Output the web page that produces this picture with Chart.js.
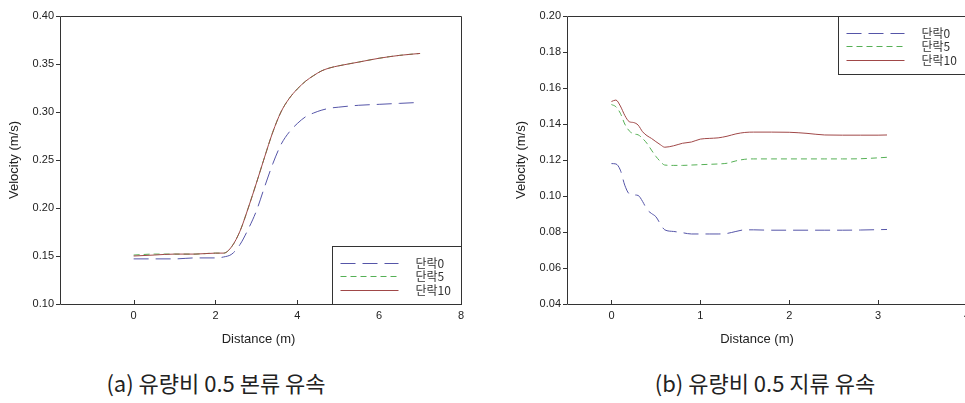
<!DOCTYPE html>
<html>
<head>
<meta charset="utf-8">
<script src="https://cdn.jsdelivr.net/npm/chart.js@4.4.1/dist/chart.umd.min.js"></script>
<style>
html, body { margin: 0; padding: 0; background: #fff; overflow: hidden; }
#wrap { position: relative; width: 965px; height: 403px; overflow: hidden; }
canvas { position: absolute; top: 0; }
#chartMain { left: 0; }
#chartBranch { left: 490px; }
.cap { position: absolute; top: 369px; font: 22px "Noto Sans CJK KR", sans-serif; line-height: 26px;
       color: #222; transform: translateX(-50%); white-space: nowrap; }
</style>
</head>
<body>
<div id="wrap">
  <canvas id="chartMain" width="480" height="352"></canvas>
  <canvas id="chartBranch" width="500" height="352"></canvas>
  <div class="cap" style="left:216px">(a) 유량비 0.5 본류 유속</div>
  <div class="cap" style="left:765px">(b) 유량비 0.5 지류 유속</div>
</div>
<script>
// 범례 이름
const seriesNames = ['단락0', '단락5', '단락10'];

// (a) 본류
const mainDist = [0, 0.5, 1, 1.5, 2, 2.2, 2.4, 2.6, 2.8, 3.0, 3.2, 3.4, 3.6, 3.8, 4.0, 4.2, 4.4, 4.6, 4.8, 5.0, 5.5, 6.0, 6.5, 7.0];
const mainCase0 = [0.147, 0.147, 0.147, 0.148, 0.148, 0.149, 0.152, 0.162, 0.178, 0.197, 0.222, 0.246, 0.266, 0.279, 0.288, 0.295, 0.299, 0.302, 0.304, 0.305, 0.307, 0.308, 0.309, 0.310];
const mainCase5 = [0.151, 0.152, 0.152, 0.152, 0.153, 0.153, 0.160, 0.176, 0.200, 0.226, 0.253, 0.279, 0.300, 0.314, 0.324, 0.332, 0.338, 0.343, 0.346, 0.348, 0.352, 0.356, 0.359, 0.361];
const mainCase10 = [0.150, 0.151, 0.152, 0.152, 0.153, 0.153, 0.160, 0.176, 0.200, 0.226, 0.253, 0.279, 0.300, 0.314, 0.324, 0.332, 0.338, 0.343, 0.346, 0.348, 0.352, 0.356, 0.359, 0.361];

// (b) 지류
const branchDist = [0, 0.05, 0.1, 0.15, 0.2, 0.25, 0.3, 0.35, 0.4, 0.45, 0.5, 0.55, 0.6, 0.7, 0.8, 0.9, 1.0, 1.1, 1.2, 1.3, 1.4, 1.5, 1.6, 1.8, 2.0, 2.2, 2.4, 2.6, 2.8, 3.0, 3.1];
const branchCase0 = [0.118, 0.1178, 0.1144, 0.106, 0.1012, 0.1006, 0.1003, 0.097, 0.0925, 0.0903, 0.0885, 0.0845, 0.0812, 0.0803, 0.0796, 0.0789, 0.0789, 0.0789, 0.0789, 0.0792, 0.0803, 0.0812, 0.0812, 0.081, 0.081, 0.081, 0.081, 0.081, 0.0811, 0.0813, 0.0814];
const branchCase5 = [0.1508, 0.1496, 0.146, 0.140, 0.1362, 0.1345, 0.134, 0.132, 0.1292, 0.1255, 0.122, 0.1192, 0.1172, 0.117, 0.117, 0.1172, 0.1174, 0.1176, 0.1178, 0.1182, 0.1195, 0.1204, 0.1206, 0.1206, 0.1206, 0.1206, 0.1206, 0.1206, 0.1207, 0.1212, 0.1215];
const branchCase10 = [0.1525, 0.1533, 0.150, 0.1448, 0.1413, 0.1408, 0.1394, 0.1357, 0.1335, 0.132, 0.1302, 0.1285, 0.1271, 0.1279, 0.1293, 0.130, 0.1316, 0.132, 0.1323, 0.1332, 0.1345, 0.1353, 0.1355, 0.1355, 0.1354, 0.1348, 0.1339, 0.1338, 0.1338, 0.1338, 0.1339];

const colors = ['#5555a8', '#55b055', '#a04848'];
const dashes = [[15, 7], [6, 4], []];
const tickFont = { family: 'Liberation Sans, Arial', size: 11 };
const titleFont = { family: 'Liberation Sans, Arial', size: 13 };

// 플롯 테두리, 눈금, x축 제목, 범례 그리기
const framePlugin = {
    id: 'frame',
    afterDraw(chart, args, opts) {
        const ctx = chart.ctx;
        const a = chart.chartArea;
        ctx.save();
        ctx.strokeStyle = '#333';
        ctx.lineWidth = 1;
        ctx.beginPath();
        ctx.rect(Math.round(a.left) + 0.5, Math.round(a.top) + 0.5, Math.round(a.right - a.left), Math.round(a.bottom - a.top));
        ctx.stroke();
        // y 눈금 (바깥)
        const ys = chart.scales.y;
        ys.ticks.forEach(t => {
            const py = Math.round(ys.getPixelForValue(t.value)) + 0.5;
            ctx.beginPath();
            ctx.moveTo(a.left - 4, py);
            ctx.lineTo(a.left, py);
            ctx.stroke();
        });
        // x 눈금 (안쪽)
        const xs = chart.scales.x;
        xs.ticks.forEach(t => {
            const px = Math.round(xs.getPixelForValue(t.value)) + 0.5;
            ctx.beginPath();
            ctx.moveTo(px, a.bottom);
            ctx.lineTo(px, a.bottom - 4);
            ctx.stroke();
        });
        // x축 제목
        ctx.fillStyle = '#222';
        ctx.font = '13px "Liberation Sans", Arial';
        ctx.textAlign = 'center';
        ctx.textBaseline = 'middle';
        ctx.fillText('Distance (m)', (a.left + a.right) / 2 + opts.titleShift, a.bottom + 35);
        ctx.textAlign = 'left';
        // 범례 상자
        const w = 129, h = 58;
        const bx = Math.round(a.right - w) + 0.5;
        const by = opts.corner === 'top' ? Math.round(a.top) + 0.5 : Math.round(a.bottom - h) + 0.5;
        ctx.fillStyle = '#fff';
        ctx.fillRect(bx, by, w, h);
        ctx.strokeStyle = '#333';
        ctx.strokeRect(bx, by, w, h);
        const rows = [16.5, 29.5, 43.5];
        chart.data.datasets.forEach((ds, i) => {
            const ry = Math.round(by + rows[i]) + 0.5;
            ctx.strokeStyle = ds.borderColor;
            ctx.setLineDash(ds.borderDash);
            ctx.beginPath();
            ctx.moveTo(bx + 8, ry);
            ctx.lineTo(bx + 66, ry);
            ctx.stroke();
            ctx.setLineDash([]);
            ctx.fillStyle = '#333';
            ctx.font = '12px "Noto Sans CJK KR", sans-serif';
            ctx.textBaseline = 'middle';
            ctx.fillText(ds.label, bx + 83, ry);
        });
        ctx.restore();
    }
};

function makeChart(canvasId, dist, series, xOpts, yOpts, axisWidth, padRight, titlePad, corner, titleShift) {
    const ctx = document.getElementById(canvasId).getContext('2d');
    return new Chart(ctx, {
        type: 'line',
        data: {
            datasets: series.map((vals, i) => ({
                label: seriesNames[i],
                data: dist.map((d, k) => ({ x: d, y: vals[k] })),
                borderColor: colors[i],
                borderDash: dashes[i],
                borderWidth: 1,
                pointRadius: 0,
                fill: false,
                cubicInterpolationMode: 'monotone',
                order: i === 2 ? -1 : i
            }))
        },
        options: {
            responsive: false,
            animation: false,
            events: [],
            layout: { padding: { top: 16, right: padRight, bottom: 0, left: 0 } },
            plugins: { legend: { display: false }, tooltip: { enabled: false },
                       frame: { corner: corner, titleShift: titleShift } },
            scales: {
                x: {
                    type: 'linear',
                    min: xOpts.min, max: xOpts.max,
                    grid: { display: false, drawTicks: false },
                    border: { display: false },
                    ticks: { stepSize: xOpts.step, includeBounds: false, padding: 5, color: '#222', font: tickFont, maxRotation: 0 },
                    afterFit(s) { s.height = 48; }
                },
                y: {
                    min: yOpts.min, max: yOpts.max,
                    grid: { display: false, drawTicks: false },
                    border: { display: false },
                    ticks: { stepSize: yOpts.step, padding: 6, color: '#222', font: tickFont,
                             callback: v => v.toFixed(2) },
                    title: { display: true, text: 'Velocity (m/s)', color: '#222', font: titleFont, padding: { top: titlePad - 1, bottom: 0 } },
                    afterFit(s) { s.width = axisWidth; }
                }
            }
        },
        plugins: [framePlugin]
    });
}

makeChart('chartMain', mainDist, [mainCase0, mainCase5, mainCase10],
    { min: -1.8, max: 8, step: 2 }, { min: 0.10, max: 0.40, step: 0.05 }, 60, 19, 8, 'bottom', -2);
makeChart('chartBranch', branchDist, [branchCase0, branchCase5, branchCase10],
    { min: -0.5, max: 4, step: 1 }, { min: 0.04, max: 0.20, step: 0.02 }, 77, 23, 25, 'top', -10);
</script>
</body>
</html>
